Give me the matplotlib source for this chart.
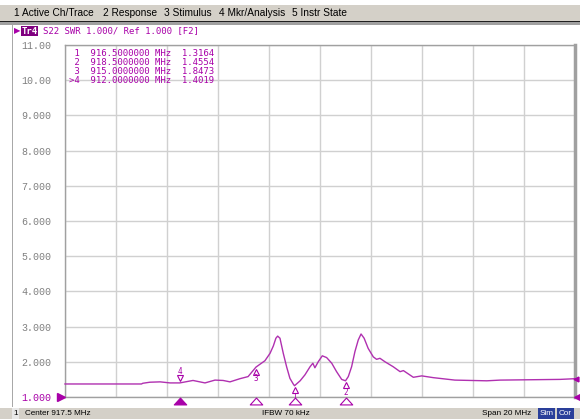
import matplotlib
matplotlib.use("Agg")
import matplotlib.pyplot as plt
from matplotlib.patches import Rectangle
from matplotlib.path import Path
import matplotlib.transforms as mtransforms

# ---------------- data ----------------
freq_mhz = [907.5, 910.50, 910.55, 910.83, 911.23, 911.62, 912.00, 912.52, 912.99,
            913.38, 913.70, 913.97, 914.36, 914.68, 914.99, 915.34, 915.54, 915.67,
            915.77, 915.84, 915.93, 916.06, 916.19, 916.32, 916.45, 916.50, 916.72,
            916.91, 917.11, 917.22, 917.30, 917.43, 917.59, 917.76, 917.96, 918.15,
            918.35, 918.50, 918.61, 918.74, 918.87, 919.00, 919.11, 919.23, 919.39,
            919.59, 919.72, 919.85, 920.05, 920.37, 920.64, 920.77, 921.16, 921.49,
            921.94, 922.79, 924.04, 924.56, 926.91, 927.5]
swr = [1.37, 1.37, 1.39, 1.42, 1.43, 1.40, 1.40, 1.47, 1.40,
       1.48, 1.47, 1.43, 1.52, 1.58, 1.85, 2.03, 2.24, 2.45,
       2.67, 2.73, 2.67, 2.24, 1.86, 1.53, 1.37, 1.32, 1.46,
       1.63, 1.86, 1.96, 1.83, 2.00, 2.17, 2.12, 1.96, 1.72,
       1.50, 1.46, 1.58, 1.86, 2.29, 2.62, 2.79, 2.67, 2.38,
       2.14, 2.07, 2.10, 2.00, 1.86, 1.72, 1.75, 1.56, 1.60,
       1.55, 1.48, 1.46, 1.48, 1.50, 1.52]

marker_ids = ["1", "2", "3", "4"]
marker_freq = [916.5, 918.5, 915.0, 912.0]
marker_swr = [1.3164, 1.4554, 1.8473, 1.4019]
marker_rows = [" 1  916.5000000 MHz  1.3164",
               " 2  918.5000000 MHz  1.4554",
               " 3  915.0000000 MHz  1.8473",
               ">4  912.0000000 MHz  1.4019"]

ytick_vals = [1, 2, 3, 4, 5, 6, 7, 8, 9, 10, 11]
ytick_labels = ["1.000", "2.000", "3.000", "4.000", "5.000", "6.000",
                "7.000", "8.000", "9.000", "10.00", "11.00"]
xtick_vals = [907.5 + 2 * i for i in range(11)]

menu_items = ["1 Active Ch/Trace", "2 Response", "3 Stimulus", "4 Mkr/Analysis", "5 Instr State"]
menu_x = [14, 103, 164, 219, 292]
title_text = "S22 SWR 1.000/ Ref 1.000 [F2]"

# ---------------- figure ----------------
W, H = 580, 419
fig = plt.figure(figsize=(W / 100, H / 100), dpi=100)
fig.patch.set_facecolor("white")

def fx(x):
    return x / W

def fy(y):
    return 1 - y / H

def rect(x0, y0, x1, y1, color, z=0):
    fig.patches.append(Rectangle((fx(x0), fy(y1)), (x1 - x0) / W, (y1 - y0) / H,
                                 transform=fig.transFigure, facecolor=color,
                                 edgecolor="none", zorder=z))

MAG = "#a800a8"
TRACE = "#b030b0"
GRAY_BG = "#d4d0c8"

# menu bar
rect(0, 5, W, 21, GRAY_BG)
rect(0, 21, W, 22.5, "#202020")
rect(0, 22.5, W, 25, "#a0a0a0")
for t, x in zip(menu_items, menu_x):
    fig.text(fx(x), fy(13.5), t, fontsize=7.3, family="Liberation Sans",
             va="center", ha="left", color="#000000")

# left border line
rect(11.5, 25, 12.5, 407, "#a8a8a8")

# status bar
SFS = 5.9
rect(0, 407.5, W, H, GRAY_BG)
rect(12, 408, 19, H, "#e8e8e8")
fig.text(fx(13.5), fy(413.5), "1", fontsize=SFS, family="Liberation Sans", va="center")
fig.text(fx(25), fy(413.5), "Center 917.5 MHz", fontsize=SFS, family="Liberation Sans", va="center")
fig.text(fx(262), fy(413.5), "IFBW 70 kHz", fontsize=SFS, family="Liberation Sans", va="center")
fig.text(fx(482), fy(413.5), "Span 20 MHz", fontsize=SFS, family="Liberation Sans", va="center")
rect(538, 408, 555, H, "#2a3f9a")
rect(557, 408, 574, H, "#2a3f9a")
fig.text(fx(546.5), fy(413.5), "Sim", fontsize=SFS, family="Liberation Sans", va="center",
         ha="center", color="white")
fig.text(fx(565.5), fy(413.5), "Cor", fontsize=SFS, family="Liberation Sans", va="center",
         ha="center", color="white")

# title line
fig.text(fx(14), fy(31), "\u25B6", fontsize=6, color=MAG, va="center", ha="left",
         family="DejaVu Sans")
fig.text(fx(21.5), fy(31), "Tr4", fontsize=6.5, family="DejaVu Sans Mono", color="white",
         va="center", ha="left", fontweight="bold",
         bbox=dict(boxstyle="square,pad=0.08", fc="#800080", ec="none"))
fig.text(fx(43), fy(31), title_text, fontsize=6.5, family="DejaVu Sans Mono", color=MAG,
         va="center", ha="left")

# axes
L, R, T, B = 65, 575, 45, 397
ax = fig.add_axes([fx(L), fy(B), (R - L) / W, (B - T) / H])
ax.set_xlim(907.5, 927.5)
ax.set_ylim(1, 11)
ax.set_xticks(xtick_vals)
ax.set_yticks(ytick_vals)
ax.set_xticklabels([])
ax.set_yticklabels(ytick_labels, family="Liberation Mono", fontsize=7.2, color="#808080")
ax.get_yticklabels()[0].set_color(MAG)
ax.tick_params(length=0, pad=10)
ax.grid(True, color="#d0d0d0", lw=1)
ax.set_axisbelow(True)
for s in ax.spines.values():
    s.set_color("#a0a0a0")
    s.set_linewidth(1)
ax.spines["right"].set_linewidth(2.5)

ax.plot(freq_mhz, swr, color=TRACE, lw=1.0, zorder=3, clip_on=False)

# marker table
for i, row in enumerate(marker_rows):
    ax.text(0, 0, row, transform=mtransforms.offset_copy(
        fig.transFigure, fig=fig, x=69 * 72 / 100, y=(H - (53.3 + 9 * i)) * 72 / 100,
        units="points"), fontsize=6.5, family="DejaVu Sans Mono", color=MAG,
        va="center", ha="left")

# markers on the trace
for mid, f, v in zip(marker_ids, marker_freq, marker_swr):
    if mid == "4":
        tr = mtransforms.offset_copy(ax.transData, fig=fig, x=0, y=3.2, units="points")
        ax.plot([f], [v], marker="v", ms=4.5, mfc="white", mec=MAG, mew=0.8,
                transform=tr, zorder=4, clip_on=False)
        tr2 = mtransforms.offset_copy(ax.transData, fig=fig, x=0, y=8.5, units="points")
        ax.text(f, v, mid, transform=tr2, fontsize=5.5, family="DejaVu Sans Mono",
                color=MAG, ha="center", va="center", zorder=4)
    else:
        tr = mtransforms.offset_copy(ax.transData, fig=fig, x=0, y=-3.2, units="points")
        ax.plot([f], [v], marker="^", ms=4.5, mfc="white", mec=MAG, mew=0.8,
                transform=tr, zorder=4, clip_on=False)
        tr2 = mtransforms.offset_copy(ax.transData, fig=fig, x=0, y=-8.5, units="points")
        ax.text(f, v, mid, transform=tr2, fontsize=5.5, family="DejaVu Sans Mono",
                color=MAG, ha="center", va="center", zorder=4)

# bottom stimulus triangles
tri = Path([(-1.0, -0.55), (1.0, -0.55), (0.0, 0.55), (-1.0, -0.55)],
           [Path.MOVETO, Path.LINETO, Path.LINETO, Path.CLOSEPOLY])
trb = mtransforms.offset_copy(ax.transData, fig=fig, x=0, y=-3.0, units="points")
for mid, f in zip(marker_ids, marker_freq):
    filled = mid == "4"
    ax.plot([f], [1], marker=tri, ms=9, mfc=MAG if filled else "white", mec=MAG,
            mew=0.8, transform=trb, clip_on=False, zorder=5)

# reference level arrows
ax.plot([907.5], [1], marker=">", ms=6, color=MAG, clip_on=False, zorder=6,
        transform=mtransforms.offset_copy(ax.transData, fig=fig, x=-3, y=0, units="points"))
ax.plot([927.5], [1], marker="<", ms=5, color=MAG, clip_on=False, zorder=6,
        transform=mtransforms.offset_copy(ax.transData, fig=fig, x=1.5, y=0, units="points"))
ax.plot([927.5], [swr[-1]], marker="<", ms=3.5, color=MAG, clip_on=False, zorder=6,
        transform=mtransforms.offset_copy(ax.transData, fig=fig, x=1.0, y=0, units="points"))

fig.savefig("out.png", dpi=100)
